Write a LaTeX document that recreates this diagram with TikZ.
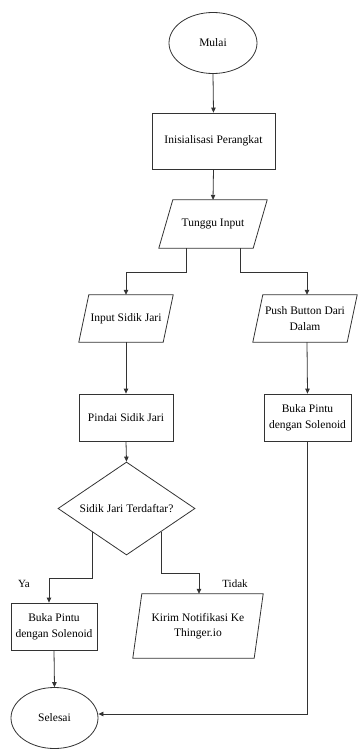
\documentclass[tikz,border=0pt]{standalone}
\usepackage{fontspec}
\setmainfont{Liberation Serif}
\newfontfamily\tnr{Liberation Serif}
\usetikzlibrary{shapes.geometric,arrows.meta}
\begin{document}
\begin{tikzpicture}[x=1pt,y=-1pt,
  every node/.style={font=\tnr\fontsize{11.5}{15.5}\selectfont, text=black, align=center},
  base/.style={draw=black!80, line width=0.8pt},
  term/.style={base, ellipse, inner sep=0pt},
  proc/.style={base, rectangle, inner sep=0pt},
  io/.style={rectangle, inner sep=0pt},
  decis/.style={base, diamond, inner sep=0pt},
  arr/.style={draw=black!80, line width=0.8pt, -{Triangle[length=5pt,width=4.5pt]}},
  lbl/.style={font=\tnr\fontsize{11}{13}\selectfont}
]
\useasboundingbox (0,0) rectangle (358,749);

\node[term, minimum width=88pt, minimum height=61pt] (mulai) at (213,43) {Mulai};
\node[proc, minimum width=123pt, minimum height=56pt] (init) at (213.5,141) {Inisialisasi Perangkat};
\node[io, minimum width=108pt, minimum height=48pt] (tunggu) at (213,224) {Tunggu Input};
\node[io, minimum width=94pt, minimum height=47pt] (inputsj) at (126,318.5) {Input Sidik Jari};
\node[io, minimum width=104pt, minimum height=47pt] (push) at (305,318.5) {Push Button Dari\\Dalam};
\node[proc, minimum width=94pt, minimum height=47pt] (pindai) at (126,417.5) {Pindai Sidik Jari};
\node[proc, minimum width=87pt, minimum height=47pt] (buka2) at (307.5,417.5) {Buka Pintu\\dengan Solenoid};
\node[decis, aspect=1.47, minimum width=137pt, minimum height=93pt] (dec) at (126.5,508.5) {Sidik Jari Terdaftar?};
\node[proc, minimum width=86pt, minimum height=47pt] (buka1) at (54,626.5) {Buka Pintu\\dengan Solenoid};
\node[io, minimum width=130pt, minimum height=64pt] (kirim) at (198,626) {Kirim Notifikasi Ke\\Thinger.io};
\node[term, minimum width=87pt, minimum height=61pt] (selesai) at (54.5,718) {Selesai};

% parallelogram outlines
\draw[base] ([xshift=14pt]tunggu.north west) -- (tunggu.north east) -- ([xshift=-14pt]tunggu.south east) -- (tunggu.south west) -- cycle;
\draw[base] ([xshift=10pt]inputsj.north west) -- (inputsj.north east) -- ([xshift=-10pt]inputsj.south east) -- (inputsj.south west) -- cycle;
\draw[base] ([xshift=10pt]push.north west) -- (push.north east) -- ([xshift=-10pt]push.south east) -- (push.south west) -- cycle;
\draw[base] ([xshift=9pt]kirim.north west) -- (kirim.north east) -- ([xshift=-9pt]kirim.south east) -- (kirim.south west) -- cycle;

\node[lbl] (ya) at (24,584) {Ya};
\node[lbl] (tidak) at (235,584) {Tidak};

\draw[arr] (mulai.south) -- (init.north);
\draw[arr] (init.south) -- (tunggu.north);
\draw[arr] ([xshift=-27pt]tunggu.south) -- ++(0,24) -| (inputsj.north);
\draw[arr] ([xshift=27pt]tunggu.south) -- ++(0,24) -| ([xshift=2pt]push.north);
\draw[arr] (inputsj.south) -- (pindai.north);
\draw[arr] ([xshift=2pt]push.south) -- (buka2.north);
\draw[arr] (pindai.south) -- (dec.north);
\draw[arr] (dec.south west) -- ++(0,46) -| ([xshift=-5pt]buka1.north);
\draw[arr] (dec.south east) -- ++(0,41) -| ([xshift=1pt]kirim.north);
\draw[arr] (buka1.south) -- (selesai.north);
\draw[arr] (buka2.south) |- ([yshift=4pt]selesai.east);
\end{tikzpicture}
\end{document}
